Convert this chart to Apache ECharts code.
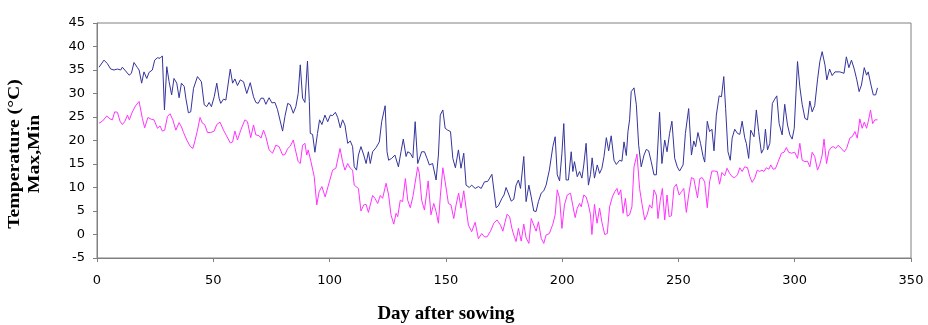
<!DOCTYPE html>
<html>
<head>
<meta charset="utf-8">
<script src="https://cdn.jsdelivr.net/npm/echarts@6/dist/echarts.min.js"></script>
<style>
html,body{margin:0;padding:0;background:#fff;}
#chart{width:928px;height:325px;}
</style>
</head>
<body>
<div id="chart"></div>
<script>
// [day after sowing, temperature °C]
const maxTemp = [
[0.9,35.6],[3.0,37.1],[4.4,36.4],[5.9,35.2],[7.3,35.0],[8.8,35.2],[10.2,35.0],[10.9,35.6],[12.3,34.8],[13.8,33.9],[14.8,34.3],[15.9,36.6],[17.4,35.5],[18.1,35.0],[19.2,32.2],[20.2,34.6],[21.4,33.2],[22.4,34.5],[23.8,35.0],[24.8,37.1],[26.0,37.6],[27.1,37.5],[28.1,38.0],[29.0,26.5],[30.0,35.7],[31.0,32.5],[32.1,29.7],[33.1,33.2],[34.3,32.2],[35.3,29.1],[36.3,32.2],[37.5,31.5],[38.2,29.0],[39.3,25.9],[40.3,26.1],[41.5,31.1],[43.2,33.6],[44.9,32.5],[46.1,27.6],[47.2,27.2],[48.2,28.1],[49.2,27.2],[50.4,29.3],[51.5,32.2],[52.5,29.0],[53.2,27.9],[54.4,28.8],[55.4,28.6],
[57.3,35.2],[58.3,32.2],[59.3,33.1],[60.4,31.7],[61.6,32.9],[63.0,32.5],[64.4,30.0],[65.9,32.3],[67.3,29.3],[68.3,28.1],[69.3,27.9],[70.5,29.0],[71.6,29.0],[72.6,27.7],[74.0,29.1],[75.2,28.0],[76.5,28.1],[77.6,26.6],[78.3,26.5],[79.8,22.0],[80.8,25.1],[82.0,27.9],[83.1,27.6],[84.4,25.8],[85.5,27.2],[86.5,30.0],[87.4,36.1],[88.4,29.0],[89.4,28.1],[90.5,36.9],[91.3,28.3],[91.7,21.5],[92.7,21.3],[93.7,17.5],[94.8,21.5],[95.7,24.4],[96.7,23.4],[98.0,25.4],[99.2,24.0],[100.3,25.4],[101.3,25.3],[102.5,26.0],[103.5,24.9],[104.6,22.7],[105.6,24.4],[106.6,23.3],[107.8,19.4],[108.9,19.9],[109.9,18.7],[110.6,14.4],[111.6,13.7],
[112.4,16.9],[113.5,18.7],[114.7,16.9],[115.7,15.1],[116.7,17.6],[117.5,15.1],[118.5,17.6],[120.0,18.5],[121.4,19.7],[122.4,24.0],[123.9,27.4],[124.7,17.6],[125.4,15.8],[126.7,16.2],[128.1,16.9],[129.6,14.4],[130.7,17.6],[131.7,20.3],[132.9,16.6],[133.6,17.6],[134.7,17.3],[135.8,16.3],[136.8,24.0],[137.9,15.1],[138.6,14.9],[139.6,17.6],[140.8,17.6],[141.9,16.2],[142.9,14.8],[144.3,15.1],[145.8,11.6],[146.8,16.9],[147.6,25.4],[148.7,26.5],[149.7,22.6],[150.8,22.2],[152.0,21.9],[153.0,16.2],[154.1,14.2],[155.4,18.0],[156.5,14.1],[157.7,17.3],[158.7,10.5],[160.1,10.0],[161.1,10.5],[162.6,9.8],[164.0,10.2],[165.2,9.8],[166.6,11.2],
[168.0,11.3],[168.7,10.9],[169.8,12.8],[170.6,13.0],[171.6,5.7],[172.6,6.1],[174.1,7.7],[175.0,8.4],[175.9,10.0],[177.0,8.6],[178.1,7.1],[179.2,7.5],[180.2,10.5],[181.2,11.6],[182.1,9.8],[183.5,16.6],[184.5,7.0],[185.7,10.5],[186.7,8.0],[187.8,5.0],[188.8,4.9],[189.8,7.0],[191.0,8.8],[192.1,9.3],[193.1,10.5],[194.5,13.7],[196.0,18.7],[197.0,20.8],[197.9,12.7],[198.9,11.4],[199.9,17.3],[200.7,23.6],[201.7,11.6],[202.7,11.6],[203.9,17.6],[204.6,13.4],[205.3,15.5],[206.5,12.3],[207.5,13.4],[208.5,12.0],[209.3,14.8],[210.3,19.4],[211.3,10.5],[212.2,12.8],[212.9,16.3],[213.9,12.0],[215.1,14.8],[216.1,13.0],[217.1,14.1],[218.0,16.6],[219.0,20.6],[220.0,17.8],[221.1,21.0],[222.3,15.8],[223.3,14.9],
[224.7,15.8],[225.7,15.6],[226.6,19.7],[227.6,16.8],[228.3,21.9],[229.0,24.4],[229.7,30.4],[230.9,31.2],[231.9,27.6],[232.9,19.0],[234.0,14.4],[235.2,16.9],[236.2,18.1],[237.2,17.8],[238.3,15.5],[239.5,12.7],[240.5,12.7],[241.9,26.0],[242.9,15.1],[244.1,20.1],[245.1,17.6],[246.2,21.5],[247.2,24.1],[248.4,16.2],[249.5,14.4],[250.5,13.5],[252.0,14.8],[253.0,21.5],[254.4,26.8],[255.6,16.9],[256.6,19.9],[257.4,18.7],[258.4,21.7],[259.5,19.4],[260.6,16.6],[261.3,15.4],[262.4,24.1],[263.4,21.9],[264.4,22.4],[265.3,17.8],[266.3,25.4],[267.5,29.5],[268.5,29.3],[269.5,33.6],[270.3,26.8],[271.3,17.6],[272.3,15.8],[273.1,20.5],[274.2,22.4],[275.4,21.5],[276.4,21.3],[277.4,24.1],[278.5,20.6],
[279.2,19.4],[280.2,16.2],[281.1,22.2],[281.7,22.6],[282.5,20.8],[283.5,26.5],[284.5,21.9],[285.7,17.3],[286.7,18.3],[287.4,22.4],[288.3,18.0],[289.3,19.4],[290.4,27.9],[291.4,28.8],[292.3,29.5],[293.3,23.6],[294.6,21.2],[295.7,27.7],[296.9,23.3],[297.9,21.2],[298.9,20.3],[299.8,22.6],[301.2,36.8],[302.2,31.4],[303.2,27.7],[304.4,24.7],[305.5,24.4],[306.5,28.4],[307.5,26.1],[308.6,27.4],[309.8,32.9],[310.8,36.8],[311.8,38.9],[313.0,36.1],[313.8,32.9],[315.0,35.2],[316.1,33.8],[317.3,34.6],[319.4,34.6],[321.2,34.3],[322.2,37.8],[323.3,35.5],[324.4,37.1],[325.6,35.2],[326.7,32.9],[327.7,30.4],[328.7,31.8],[329.9,35.5],[330.9,33.9],[331.6,34.6],[332.8,31.8],[333.8,29.7],[334.8,29.7],[335.6,31.2]
];
const minTemp = [
[0.9,23.7],[2.3,24.1],[4.2,25.2],[5.6,24.6],[6.6,24.4],[7.6,26.1],[8.8,26.0],[9.9,24.1],[10.9,23.4],[11.9,24.0],[13.1,25.4],[13.9,24.4],[15.2,26.1],[16.6,27.4],[18.1,28.3],[19.5,24.7],[20.5,22.7],[21.9,24.9],[23.4,24.5],[24.5,24.4],[26.0,22.6],[27.1,23.1],[28.1,22.0],[29.1,22.2],[30.3,25.1],[31.4,25.7],[32.6,24.4],[33.9,22.2],[35.3,23.8],[36.3,22.9],[37.2,21.7],[38.6,20.1],[40.0,18.8],[41.2,18.3],[42.0,19.7],[43.2,22.2],[44.3,24.9],[45.3,23.7],[46.3,23.4],[47.5,21.7],[48.9,21.7],[50.4,22.0],[51.5,23.4],[52.9,23.9],[54.4,22.2],[55.7,21.0],
[57.3,19.5],[58.3,19.7],[59.3,22.0],[60.4,20.1],[61.8,22.2],[63.6,24.4],[64.7,24.0],[65.4,24.1],[66.1,20.6],[67.3,23.3],[68.3,21.2],[69.7,21.0],[70.5,20.5],[71.6,22.2],[72.6,20.8],[74.0,18.0],[75.5,17.3],[76.9,19.0],[78.3,18.7],[79.8,16.9],[80.8,17.0],[82.0,18.3],[83.1,18.8],[84.4,20.1],[85.5,17.6],[86.5,15.5],[87.4,15.1],[88.4,19.0],[89.4,19.4],[90.2,16.9],[90.8,18.0],[92.0,15.5],[93.4,12.3],[94.5,6.3],[95.5,9.1],[96.7,10.2],[98.1,8.0],[99.9,11.2],[101.3,13.7],[102.7,14.1],[103.4,13.7],[104.5,18.3],[105.6,15.5],[106.6,13.7],[107.8,15.1],[108.9,14.1],[109.9,13.7],
[110.6,10.5],[112.4,9.8],[113.5,5.0],[114.7,6.3],[115.7,6.4],[116.7,4.7],[117.5,4.5],[118.5,8.3],[119.5,7.7],[120.7,6.6],[121.8,8.3],[122.8,7.7],[124.3,10.9],[125.4,8.4],[126.4,4.2],[127.6,2.2],[128.6,4.5],[129.3,3.8],[130.4,7.3],[131.4,7.0],[132.6,11.9],[133.6,7.3],[134.7,5.7],[135.8,8.0],[136.5,7.7],[137.9,14.4],[138.6,13.0],[139.6,7.3],[140.8,5.2],[142.4,11.4],[143.6,4.2],[144.8,6.6],[145.8,4.9],[146.8,2.4],[147.6,8.0],[148.7,14.2],[149.7,11.2],[151.1,6.6],[152.2,6.3],[153.4,3.4],[154.4,6.3],[155.5,8.8],[156.5,5.6],[157.7,9.3],[158.7,5.6],[159.7,2.0],[161.1,0.6],[162.6,2.6],[164.0,-0.9],[165.4,0.2],[166.6,-0.5],
[167.7,-0.5],[169.2,0.7],[170.6,2.4],[172.0,3.1],[173.5,2.0],[174.5,0.7],[175.5,2.7],[176.3,4.3],[177.4,3.8],[178.4,1.3],[179.2,-0.1],[180.2,-1.5],[181.2,1.3],[182.4,-1.4],[183.5,2.2],[184.5,-0.7],[185.7,-1.9],[186.7,3.4],[187.8,2.0],[188.8,0.7],[189.8,2.7],[191.0,-0.8],[192.1,-1.9],[193.1,-0.1],[194.5,0.2],[196.0,2.2],[197.0,4.2],[197.9,9.5],[198.9,7.7],[199.9,1.3],[201.0,6.3],[202.2,8.4],[203.6,8.8],[204.6,6.1],[205.6,3.6],[206.5,5.6],[207.5,6.6],[208.2,5.9],[209.3,8.4],[210.3,8.0],[211.3,6.3],[212.2,4.2],[212.8,0.0],[213.9,6.4],[215.0,2.4],[216.1,5.6],[217.1,2.6],[218.3,0.0],[219.4,0.2],[220.4,5.9],[221.6,8.0],[222.6,9.1],[223.6,9.8],
[224.3,8.4],[225.2,9.5],[226.2,4.5],[227.2,7.7],[228.0,3.9],[229.0,4.2],[230.0,5.9],[230.9,14.4],[232.2,17.1],[233.3,9.8],[234.3,6.6],[235.5,3.1],[236.6,4.3],[237.6,6.3],[238.6,5.6],[239.5,9.5],[240.5,8.4],[241.2,3.4],[242.2,7.3],[243.1,9.8],[244.1,3.1],[245.1,8.4],[246.0,3.8],[247.0,4.0],[248.1,10.0],[249.1,10.7],[250.3,8.4],[251.3,9.1],[252.3,9.8],[253.4,4.7],[254.4,8.4],[255.6,12.1],[256.6,11.9],[258.2,7.8],[259.2,11.9],[260.2,12.1],[261.3,11.2],[262.4,5.7],[263.4,11.2],[264.4,13.5],[265.6,13.5],[266.7,13.4],[267.7,10.7],[268.7,13.2],[269.9,12.5],[270.9,14.1],[272.0,13.0],[273.1,12.3],[274.2,12.1],[275.4,12.7],[276.4,14.2],[277.4,13.4],[278.5,14.4],
[279.7,14.2],[280.7,12.3],[281.7,11.1],[282.8,12.0],[283.9,13.7],[284.9,13.4],[285.9,13.7],[286.8,13.4],[287.8,14.2],[288.9,13.9],[289.7,14.8],[290.7,13.9],[291.7,14.0],[292.9,15.5],[294.3,17.3],[295.4,17.5],[296.4,18.5],[297.4,17.5],[298.6,17.3],[300.0,17.5],[301.2,16.2],[302.2,19.4],[303.2,15.8],[304.4,15.5],[305.5,15.6],[306.5,14.4],[307.5,17.5],[308.6,16.6],[309.8,13.7],[310.8,14.9],[311.8,16.9],[312.6,20.3],[313.7,15.1],[314.7,17.8],[315.6,18.5],[316.6,18.7],[317.6,18.3],[318.7,19.0],[320.2,18.2],[321.3,17.6],[322.3,18.3],[323.7,20.5],[324.7,20.8],[325.9,21.9],[326.9,20.5],[328.0,24.6],[329.0,22.6],[329.9,23.9],[330.9,22.6],[331.6,24.0],[332.6,26.5],[333.5,23.6],[334.5,24.4],[335.6,24.4]
];
const xTitle = 'Day after sowing';
const yTitle = 'Temperature (°C)\nMax,Min';

const chart = echarts.init(document.getElementById('chart'), null, {renderer: 'canvas'});
const axisLabelStyle = {color: '#000', fontFamily: '"DejaVu Sans", sans-serif', fontSize: 13};
chart.setOption({
  animation: false,
  backgroundColor: '#fff',
  grid: {left: 97, right: 17, top: 23, bottom: 67, show: true, borderColor: '#808080', borderWidth: 1},
  xAxis: {
    type: 'value', min: 0, max: 350, interval: 50,
    axisLine: {show: true, onZero: false, lineStyle: {color: '#808080', width: 1}},
    axisTick: {show: true, inside: false, length: 4, lineStyle: {color: '#808080'}},
    axisLabel: Object.assign({margin: 16}, axisLabelStyle),
    splitLine: {show: false}
  },
  yAxis: {
    type: 'value', min: -5, max: 45, interval: 5,
    axisLine: {show: true, onZero: false, lineStyle: {color: '#808080', width: 1}},
    axisTick: {show: true, inside: false, length: 4, lineStyle: {color: '#808080'}},
    axisLabel: Object.assign({margin: 12}, axisLabelStyle),
    splitLine: {show: false}
  },
  series: [
    {name: 'Max', type: 'line', data: maxTemp, showSymbol: false, symbol: 'none',
     lineStyle: {color: '#34349c', width: 1}, itemStyle: {color: '#34349c'}},
    {name: 'Min', type: 'line', data: minTemp, showSymbol: false, symbol: 'none',
     lineStyle: {color: '#ff33ff', width: 1}, itemStyle: {color: '#ff33ff'}}
  ],
  graphic: [
    {type: 'text', x: 25, y: 154, rotation: Math.PI / 2, scaleX: 1.16, scaleY: 1,
     style: {text: yTitle, align: 'center', verticalAlign: 'middle', lineHeight: 20,
       font: 'bold 17px "Liberation Serif", "Times New Roman", serif', fill: '#000'}},
    {type: 'text', x: 446, y: 314,
     style: {text: xTitle, align: 'center', verticalAlign: 'middle',
       font: 'bold 19px "Liberation Serif", "Times New Roman", serif', fill: '#000'}}
  ]
});
</script>
</body>
</html>
